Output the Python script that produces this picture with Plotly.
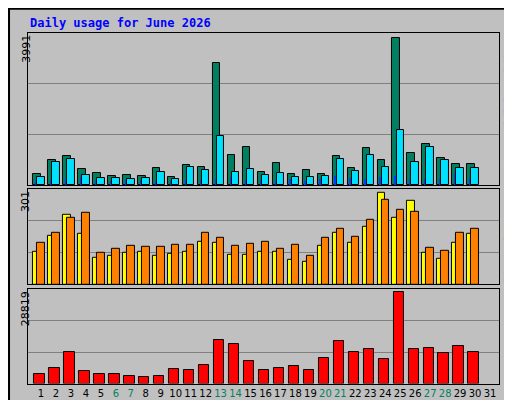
import plotly.graph_objects as go
from plotly.subplots import make_subplots

days = list(range(1, 32))
weekend = [6, 7, 13, 14, 20, 21, 27, 28]

hits = [307, 686, 795, 442, 334, 253, 280, 253, 470, 226, 551, 497, 3314, 822, 1038,
        361, 605, 307, 415, 307, 795, 470, 1011, 686, 3991, 876, 1120, 740, 578, 578]
files = [226, 632, 713, 280, 199, 199, 172, 199, 361, 172, 497, 415, 1336, 361, 442,
         280, 334, 226, 226, 253, 713, 388, 822, 497, 1499, 632, 1038, 686, 470, 470]
pages = [144, 144, 199, 226, 117, 117, 144, 144, 117, 117, 144, 144, 172, 226, 144,
         144, 144, 172, 117, 172, 253, 199, 172, 226, 253, 172, 172, 172, 334, 199]
visits = [108, 160, 229, 167, 88, 95, 105, 108, 95, 101, 108, 141, 137, 98, 98,
          108, 108, 79, 75, 128, 170, 137, 190, 301, 219, 275, 105, 85, 137, 167]
sites = [137, 170, 219, 236, 105, 118, 128, 124, 124, 131, 131, 170, 151, 128, 134,
         141, 115, 131, 95, 154, 183, 157, 213, 278, 245, 239, 121, 111, 170, 183]
kbytes = [2945, 4838, 9887, 3892, 2945, 2945, 2314, 1998, 2314, 4523, 4207, 5785, 13673, 12411, 7047,
          4207, 4838, 5469, 4207, 7994, 13358, 9887, 10834, 7678, 28819, 10834, 11149, 9571, 11780, 9887]

n = len(hits)
xd = days[:n]
edge = dict(color='black', width=1)

fig = make_subplots(rows=3, cols=1)

# ---- hits / files / pages ----
fig.add_trace(go.Bar(x=[d - 0.27 for d in xd], y=hits, width=0.5, marker=dict(color='#008060', line=edge)), row=1, col=1)
fig.add_trace(go.Bar(x=[d - 0.33 for d in xd], y=pages, width=0.14, marker=dict(color='#0040ff', line=dict(width=0))), row=1, col=1)
fig.add_trace(go.Bar(x=xd, y=files, width=0.5, marker=dict(color='#00e0ff', line=edge)), row=1, col=1)

# ---- visits / sites ----
fig.add_trace(go.Bar(x=[d - 0.27 for d in xd], y=visits, width=0.5, marker=dict(color='#ffff00', line=edge)), row=2, col=1)
fig.add_trace(go.Bar(x=xd, y=sites, width=0.5, marker=dict(color='#ff8000', line=edge)), row=2, col=1)

# ---- kbytes ----
fig.add_trace(go.Bar(x=[d - 0.1 for d in xd], y=kbytes, width=0.69, marker=dict(color='#ff0000', line=edge)), row=3, col=1)

ranges = [max(hits) * 1.031, max(visits) * 1.04, max(kbytes) * 1.037]
domains = [[0.5575, 0.9375], [0.309, 0.548], [0.061, 0.2975]]
for i in range(3):
    r = ranges[i]
    fig.update_yaxes(range=[0, r], domain=domains[i], tickvals=[r / 3, 2 * r / 3], showticklabels=False,
                     gridcolor='#808080', gridwidth=1, zeroline=False, showline=True, linecolor='black',
                     mirror=True, ticks='', row=i + 1, col=1)
    fig.update_xaxes(range=[0.13, 31.6], domain=[0.039, 0.959], showgrid=False, zeroline=False,
                     showline=True, linecolor='black', mirror=True, showticklabels=False, ticks='',
                     row=i + 1, col=1)

ticktext = ["<span style='color:%s'>%d</span>" % ('#008060' if d in weekend else 'black', d) for d in days]
fig.update_xaxes(showticklabels=True, tickvals=days, ticktext=ticktext, tickangle=0,
                 tickfont=dict(family='DejaVu Sans', size=10), row=3, col=1)

mono = 'DejaVu Sans Mono'
ann = [
    dict(x=0.039, y=0.962, text='<b>Daily usage for June 2026</b>', xanchor='left', yanchor='middle',
         font=dict(family=mono, size=12, color='#0000ff')),
    dict(x=0.018, y=0.9375, text=str(max(hits)), textangle=-90, xanchor='left', yanchor='top',
         font=dict(family='DejaVu Sans', size=11, color='black')),
    dict(x=0.018, y=0.548, text=str(max(visits)), textangle=-90, xanchor='left', yanchor='top',
         font=dict(family='DejaVu Sans', size=11, color='black')),
    dict(x=0.018, y=0.2975, text=str(max(kbytes)), textangle=-90, xanchor='left', yanchor='top',
         font=dict(family='DejaVu Sans', size=11, color='black')),
    dict(x=0.961, y=0.9375, textangle=-90, xanchor='left', yanchor='top',
         text="<span style='color:#00c0ff'>Pages</span> / <span style='color:#0040ff'>Files</span> / <span style='color:#008060'>Hits</span>",
         font=dict(family=mono, size=11, color='black')),
    dict(x=0.961, y=0.548, textangle=-90, xanchor='left', yanchor='top',
         text="<span style='color:#ff8000'>Sites</span> / <span style='color:#ffff00'>Visits</span>",
         font=dict(family=mono, size=11, color='black')),
    dict(x=0.961, y=0.2975, textangle=-90, xanchor='left', yanchor='top',
         text="<span style='color:#ff0000'>KBytes</span>",
         font=dict(family=mono, size=11, color='black')),
]
for a in ann:
    a.update(xref='paper', yref='paper', showarrow=False)

shapes = [
    dict(type='rect', xref='paper', yref='paper', x0=0.002, y0=0.002, x1=0.998, y1=0.998,
         line=dict(color='black', width=2), layer='below'),
    dict(type='line', xref='paper', yref='paper', x0=0.992, y0=0.01, x1=0.992, y1=0.995,
         line=dict(color='#808080', width=4), layer='below'),
    dict(type='line', xref='paper', yref='paper', x0=0.006, y0=0.008, x1=0.995, y1=0.008,
         line=dict(color='#808080', width=4), layer='below'),
]

fig.update_layout(width=512, height=400, margin=dict(l=0, r=0, t=0, b=0),
                  paper_bgcolor='#c0c0c0', plot_bgcolor='#c0c0c0', barmode='overlay',
                  showlegend=False, annotations=ann, shapes=shapes, bargap=0)

fig.write_html("out.html")
